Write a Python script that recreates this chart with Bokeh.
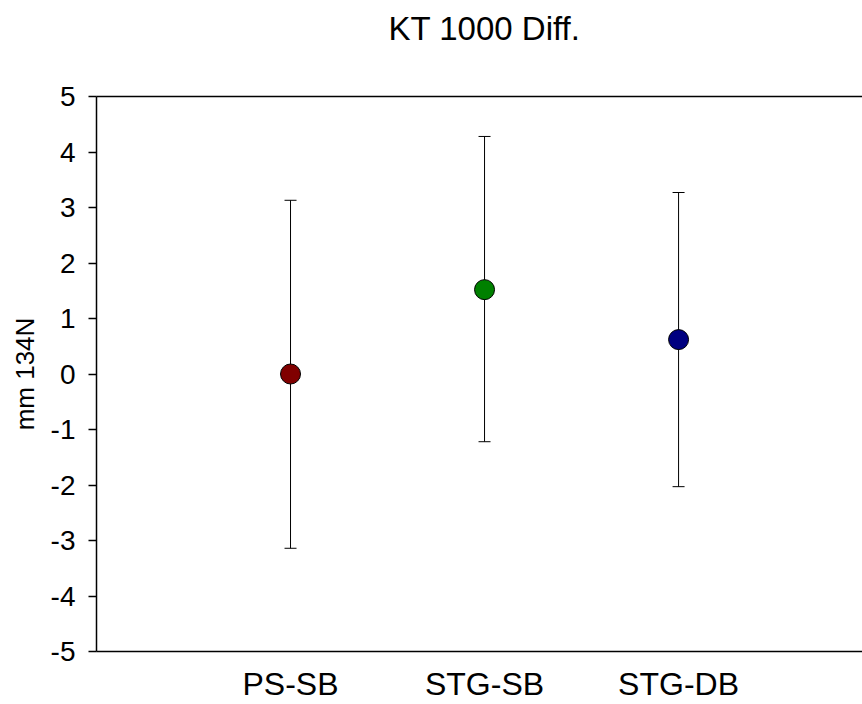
from bokeh.plotting import figure
from bokeh.models import (ColumnDataSource, Range1d, LinearAxis, FixedTicker,
                          Whisker, TeeHead, Title)
from bokeh.embed import file_html
from bokeh.resources import INLINE

# ---- data ----
categories = ["PS-SB", "STG-SB", "STG-DB"]
positions = [1, 2, 3]
means = [0.0, 1.52, 0.62]
upper = [3.13, 4.28, 3.27]
lower = [-3.14, -1.22, -2.03]
colors = ["#800000", "#008000", "#000080"]
y_ticks = [-5, -4, -3, -2, -1, 0, 1, 2, 3, 4, 5]
y_tick_labels = ["-5", "-4", "-3", "-2", "-1", "0", "1", "2", "3", "4", "5"]
title_text = "KT 1000 Diff."

FONT = "Liberation Sans"

p = figure(width=862, height=704, output_backend="svg", toolbar_location=None,
           title=None,
           x_range=Range1d(0, 3.948), y_range=Range1d(-5, 5),
           x_axis_location=None, y_axis_location=None,
           min_border_left=96, min_border_right=0, min_border_top=96,
           min_border_bottom=50, background_fill_color="white",
           border_fill_color="white")
p.outline_line_color = None
p.grid.visible = False

# left axis
yax = LinearAxis(ticker=FixedTicker(ticks=y_ticks), axis_label="mm 134N",
                 major_label_overrides={t: l for t, l in zip(y_ticks, y_tick_labels)})
yax.axis_line_width = 1.5
yax.major_tick_in = 0
yax.major_tick_out = 8
yax.major_tick_line_width = 1.5
yax.minor_tick_line_color = None
yax.major_label_standoff = 13
yax.major_label_text_font = FONT
yax.major_label_text_font_size = "28px"
yax.major_label_text_color = "black"
yax.axis_label_text_font = FONT
yax.axis_label_text_font_size = "26px"
yax.axis_label_text_font_style = "normal"
yax.axis_label_text_color = "black"
yax.axis_label_standoff = 8
p.add_layout(yax, "left")

# bottom axis with category labels
xax = LinearAxis(ticker=FixedTicker(ticks=positions),
                 major_label_overrides={pos: c for pos, c in zip(positions, categories)})
xax.axis_line_width = 1.5
xax.major_tick_in = 0
xax.major_tick_out = 0
xax.minor_tick_line_color = None
xax.major_label_standoff = 14
xax.major_label_text_font = FONT
xax.major_label_text_font_size = "32px"
xax.major_label_text_color = "black"
p.add_layout(xax, "below")

# top frame line
tax = LinearAxis(ticker=FixedTicker(ticks=[]))
tax.axis_line_width = 1.5
tax.major_tick_in = 0
tax.major_tick_out = 0
tax.minor_tick_line_color = None
tax.major_label_text_font_size = "0px"
tax.major_label_standoff = 0
p.add_layout(tax, "above")

# invisible spacer between frame and title
p.add_layout(Title(text=" ", text_font_size="1px", standoff=47,
                   text_color="white"), "above")

# title
p.add_layout(Title(text=title_text, align="left", offset=292, standoff=0,
                   text_font=FONT, text_font_size="33px",
                   text_font_style="normal", text_color="black"), "above")

src = ColumnDataSource(dict(x=positions, y=means, upper=upper, lower=lower,
                            color=colors))

p.add_layout(Whisker(source=src, base="x", upper="upper", lower="lower",
                     line_color="black", line_width=1,
                     upper_head=TeeHead(size=12, line_color="black", line_width=1),
                     lower_head=TeeHead(size=12, line_color="black", line_width=1)))

p.scatter("x", "y", source=src, size=20, fill_color="color",
          line_color="black", line_width=1)

open("out.html", "w").write(file_html(p, INLINE))
